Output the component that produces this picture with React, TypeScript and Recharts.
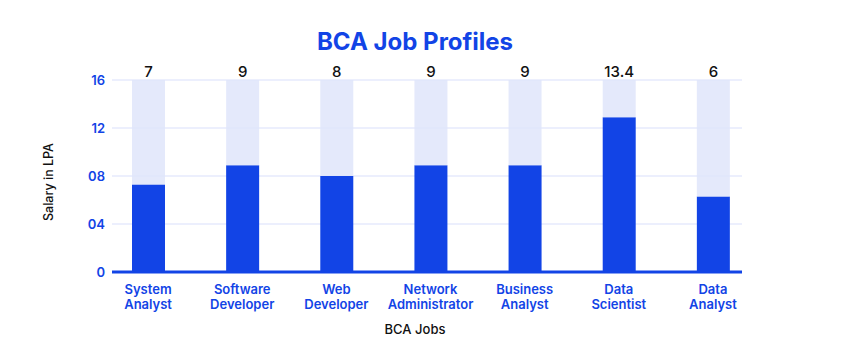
import { BarChart, Bar, XAxis, YAxis, CartesianGrid, LabelList } from 'recharts';

const jobs = [
  "System Analyst",
  "Software Developer",
  "Web Developer",
  "Network Administrator",
  "Business Analyst",
  "Data Scientist",
  "Data Analyst",
];
// bar heights as drawn
const salaries = [7.3, 8.9, 8.0, 8.9, 8.9, 12.9, 6.3];
// numbers printed above each column
const salaryLabels = ["7", "9", "8", "9", "9", "13.4", "6"];
const yTicks = [0, 4, 8, 12, 16];
const yTickLabels = ["0", "04", "08", "12", "16"];
const yMax = 16;

const BLUE = "#1244e6";
const LIGHT = "#dfe5fa";
const FONT = "Inter, 'Open Sans', sans-serif";

const data = jobs.map((name, i) => ({
  name,
  salary: salaries[i],
  rest: yMax - salaries[i],
  label: salaryLabels[i],
}));

function JobTick(props: any) {
  const { x, y, payload } = props;
  const words = String(payload.value).split(" ");
  return (
    <text
      x={x}
      y={y}
      textAnchor="middle"
      fill={BLUE}
      fontSize={13}
      fontWeight={600}
      fontFamily={FONT}
    >
      {words.map((w: string, i: number) => (
        <tspan key={i} x={x} dy={i === 0 ? 14 : 15}>
          {w}
        </tspan>
      ))}
    </text>
  );
}

// rotated y axis title, centred a little below the plot's middle like the original
function SalaryLabel(props: any) {
  const vb = props.viewBox || {};
  const cx = 48;
  const cy = (vb.y ?? 80) + (vb.height ?? 192) / 2 + 6;
  return (
    <text
      x={cx}
      y={cy}
      transform={`rotate(-90 ${cx} ${cy})`}
      textAnchor="middle"
      dominantBaseline="central"
      fill="#111"
      fontSize={12.5}
      fontWeight={500}
      fontFamily={FONT}
    >
      Salary in LPA
    </text>
  );
}

export default function App() {
  return (
    <div
      style={{
        position: "absolute",
        left: 0,
        top: 0,
        width: 843,
        height: 351,
        background: "#fff",
        fontFamily: FONT,
      }}
    >
      <div
        style={{
          position: "absolute",
          top: 27,
          left: 0,
          width: 830,
          textAlign: "center",
          color: BLUE,
          fontSize: 24,
          fontWeight: 700,
        }}
      >
        BCA Job Profiles
      </div>
      <BarChart
        width={843}
        height={351}
        data={data}
        margin={{ top: 80, right: 101, bottom: 29, left: 42 }}
        barSize={33}
      >
        <CartesianGrid vertical={false} stroke="#e6eafc" strokeWidth={1.5} />
        <XAxis
          dataKey="name"
          height={50}
          padding={{ left: -11, right: -18 }}
          tickLine={false}
          axisLine={{ stroke: BLUE, strokeWidth: 3 }}
          tick={<JobTick />}
          interval={0}
          label={{
            value: "BCA Jobs",
            position: "insideBottom",
            offset: -12,
            dx: -12,
            fill: "#111",
            fontSize: 13,
            fontWeight: 500,
            fontFamily: FONT,
          }}
        />
        <YAxis
          width={70}
          domain={[0, yMax]}
          ticks={yTicks}
          tickFormatter={(v: number) => yTickLabels[yTicks.indexOf(v)]}
          tickLine={false}
          axisLine={false}
          tickSize={0}
          tickMargin={7}
          tick={{ fill: BLUE, fontSize: 13, fontWeight: 600, fontFamily: FONT }}
          label={{ content: SalaryLabel }}
        />
        <Bar dataKey="salary" stackId="a" fill={BLUE} isAnimationActive={false} />
        <Bar
          dataKey="rest"
          stackId="a"
          fill={LIGHT}
          fillOpacity={0.85}
          isAnimationActive={false}
        >
          <LabelList
            dataKey="label"
            position="top"
            offset={3}
            fill="#111"
            fontSize={15}
            fontWeight={500}
            fontFamily={FONT}
          />
        </Bar>
      </BarChart>
    </div>
  );
}
